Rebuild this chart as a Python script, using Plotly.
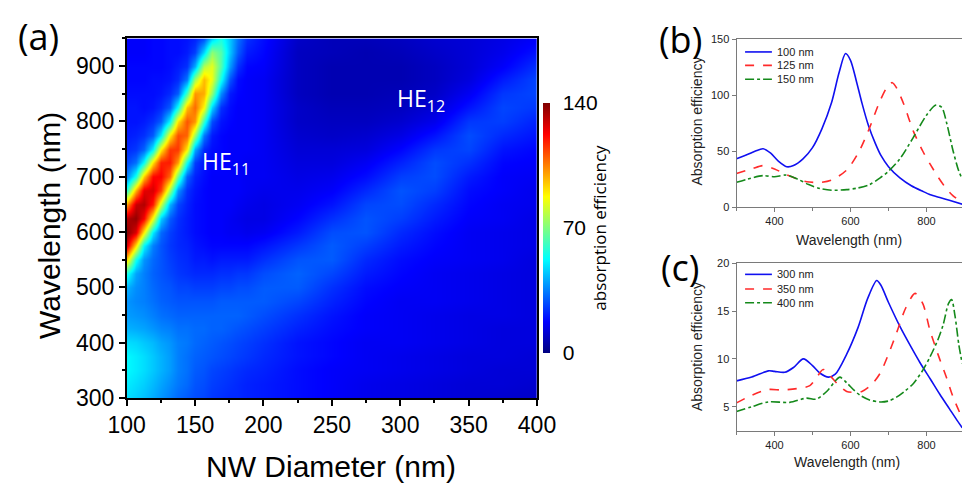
import numpy as np
import plotly.graph_objects as go

# ---------------- panel (a): absorption map ----------------
diameters = [100, 106.25, 112.5, 118.75, 125, 131.25, 137.5, 143.75, 150, 156.25, 162.5, 168.75,
             175, 181.25, 187.5, 200, 225, 250, 275, 300, 325, 350, 375, 400]
map_wavelengths = list(range(300, 951, 25))

# one list per diameter, values along map_wavelengths (300 -> 950 nm)
abs_d100 = [48, 50, 52, 52, 48, 42, 39, 38, 42, 56, 93, 129, 139, 133, 101, 58, 35, 27, 23, 21, 20, 20, 19, 18, 18, 17, 17]
abs_d106 = [46, 48, 50, 50, 47, 41, 38, 36, 37, 40, 55, 92, 127, 137, 130, 98, 55, 33, 25, 22, 20, 20, 19, 18, 18, 17, 17]
abs_d112 = [44, 46, 48, 48, 45, 40, 37, 35, 35, 35, 38, 52, 89, 123, 133, 126, 94, 53, 31, 24, 21, 19, 19, 18, 18, 17, 17]
abs_d118 = [41, 43, 45, 45, 43, 38, 35, 33, 32, 31, 32, 35, 50, 86, 119, 128, 122, 91, 51, 30, 24, 20, 19, 19, 18, 18, 18]
abs_d125 = [38, 40, 42, 42, 40, 36, 33, 31, 30, 29, 29, 29, 32, 46, 81, 114, 123, 118, 89, 50, 30, 23, 20, 19, 18, 18, 18]
abs_d131 = [35, 37, 39, 39, 38, 35, 32, 30, 29, 27, 26, 25, 26, 30, 42, 75, 108, 119, 115, 89, 52, 30, 23, 20, 19, 19, 19]
abs_d137 = [32, 34, 35, 35, 35, 33, 31, 29, 27, 25, 24, 23, 23, 24, 27, 38, 67, 101, 115, 112, 91, 54, 30, 23, 21, 19, 19]
abs_d143 = [30, 32, 33, 33, 34, 33, 31, 29, 27, 24, 23, 22, 21, 21, 22, 24, 31, 55, 90, 109, 111, 96, 62, 34, 24, 21, 20]
abs_d150 = [28, 29, 30, 31, 32, 32, 31, 29, 26, 23, 21, 20, 19, 19, 19, 20, 22, 26, 41, 74, 102, 108, 102, 74, 41, 26, 22]
abs_d156 = [27, 28, 29, 30, 31, 32, 31, 29, 26, 23, 21, 19, 18, 18, 18, 18, 19, 20, 23, 34, 60, 88, 99, 97, 77, 47, 28]
abs_d162 = [25, 26, 27, 29, 30, 31, 31, 29, 26, 23, 20, 18, 17, 17, 17, 17, 17, 18, 19, 21, 28, 47, 73, 85, 84, 72, 46]
abs_d168 = [24, 25, 26, 28, 29, 31, 31, 30, 27, 24, 21, 18, 17, 17, 17, 17, 17, 18, 18, 18, 20, 24, 37, 55, 64, 64, 56]
abs_d175 = [23, 24, 25, 27, 28, 30, 31, 30, 27, 24, 21, 18, 16, 16, 17, 17, 17, 17, 17, 17, 18, 19, 21, 29, 39, 45, 45]
abs_d181 = [23, 23, 24, 26, 27, 29, 31, 30, 28, 25, 21, 18, 16, 15, 16, 17, 17, 17, 17, 17, 17, 17, 18, 19, 24, 30, 33]
abs_d187 = [22, 22, 23, 25, 26, 28, 30, 30, 28, 25, 21, 18, 15, 14, 15, 16, 16, 16, 17, 17, 17, 17, 17, 17, 18, 21, 24]
abs_d200 = [21, 21, 22, 23, 24, 26, 28, 30, 30, 28, 24, 20, 16, 14, 14, 15, 16, 16, 16, 16, 16, 16, 16, 16, 17, 18, 19]
abs_d225 = [19, 19, 19, 20, 20, 22, 24, 27, 30, 31, 29, 25, 21, 18, 16, 15, 14, 13, 12, 11, 10, 10, 9, 9, 9, 9, 10]
abs_d250 = [17, 17, 17, 18, 18, 19, 20, 22, 24, 27, 30, 30, 28, 24, 20, 17, 15, 13, 12, 10, 9, 8, 7, 7, 7, 8, 8]
abs_d275 = [15, 15, 16, 16, 16, 17, 17, 18, 19, 21, 23, 26, 29, 29, 27, 23, 19, 16, 13, 11, 9, 8, 7, 7, 7, 7, 8]
abs_d300 = [14, 14, 15, 15, 16, 16, 16, 16, 17, 18, 19, 21, 23, 26, 28, 29, 26, 22, 18, 14, 11, 9, 8, 7, 7, 8, 9]
abs_d325 = [13, 13, 14, 14, 15, 15, 15, 16, 16, 16, 17, 18, 19, 21, 23, 26, 28, 28, 25, 20, 15, 12, 10, 9, 9, 10, 11]
abs_d350 = [12, 12, 13, 13, 14, 14, 14, 15, 15, 15, 16, 16, 16, 17, 18, 19, 21, 24, 27, 28, 25, 20, 16, 13, 12, 12, 12]
abs_d375 = [11, 12, 12, 13, 13, 13, 14, 14, 14, 14, 15, 15, 15, 16, 16, 17, 17, 18, 20, 23, 26, 27, 25, 21, 17, 15, 14]
abs_d400 = [10, 11, 12, 12, 13, 13, 13, 13, 13, 13, 13, 14, 14, 14, 15, 15, 16, 17, 18, 20, 22, 25, 27, 27, 24, 20, 17]

map_columns = [abs_d100, abs_d106, abs_d112, abs_d118, abs_d125, abs_d131, abs_d137, abs_d143,
               abs_d150, abs_d156, abs_d162, abs_d168, abs_d175, abs_d181, abs_d187, abs_d200,
               abs_d225, abs_d250, abs_d275, abs_d300, abs_d325, abs_d350, abs_d375, abs_d400]
colorbar_ticks = [0, 70, 140]

# ---------------- panel (b) ----------------
b100_wl = [300, 330, 350, 370, 390, 410, 432, 450, 475, 500, 525, 550, 570, 587, 600, 615, 630, 647, 665, 680, 700, 730, 760, 790, 810, 835, 860, 894]
b100_val = [43, 47, 50, 52, 48, 41, 36, 37, 43, 53, 70, 93, 120, 137, 131, 113, 93, 73, 57, 46, 36, 26, 19, 14, 11, 8.5, 6, 2.5]
b125_wl = [300, 340, 370, 400, 430, 460, 485, 520, 550, 590, 620, 647, 678, 700, 710, 720, 740, 765, 790, 810, 830, 853, 870, 894]
b125_val = [30, 34, 37, 34, 29, 25, 22.5, 22, 24, 33, 48, 68, 95, 109, 111, 107, 92, 68, 50, 38, 27, 16, 10, 4]
b150_wl = [300, 330, 370, 400, 430, 460, 490, 520, 550, 590, 620, 650, 678, 700, 730, 765, 800, 825, 840, 853, 870, 885, 894]
b150_val = [22, 25, 28, 27, 28.5, 25, 20, 16.5, 15, 15.5, 17, 20, 26, 32, 43, 62, 82, 91, 89, 75, 50, 32, 25]

# ---------------- panel (c) ----------------
c300_wl = [300, 340, 384, 400, 427, 450, 476, 500, 520, 542, 560, 590, 620, 645, 669, 680, 700, 730, 760, 783, 810, 835, 860, 880, 894]
c300_val = [7.7, 8.1, 8.75, 8.7, 8.6, 9.1, 10.0, 9.3, 8.5, 8.1, 8.4, 10.5, 13.3, 16.3, 18.2, 17.7, 15.9, 13.4, 11.2, 9.6, 7.9, 6.3, 4.8, 3.6, 2.8]
c350_wl = [300, 340, 384, 420, 460, 493, 510, 528, 545, 570, 590, 607, 630, 655, 678, 700, 721, 745, 770, 790, 809, 830, 853, 870, 894]
c350_val = [5.4, 6.2, 6.8, 6.75, 6.9, 7.2, 8.0, 8.9, 8.3, 7.2, 6.6, 6.5, 6.6, 7.3, 8.5, 10.5, 12.7, 15.3, 16.85, 15.8, 13.0, 10.5, 8.0, 6.0, 3.8]
c400_wl = [300, 340, 384, 440, 484, 510, 540, 560, 572, 590, 610, 625, 650, 678, 700, 721, 745, 765, 790, 809, 830, 844, 858, 866, 875, 885, 894]
c400_val = [4.5, 5.0, 5.5, 5.45, 5.9, 5.8, 6.7, 7.7, 8.1, 7.5, 6.7, 6.2, 5.7, 5.5, 5.6, 6.0, 6.7, 7.4, 8.8, 10.2, 12.0, 13.6, 15.8, 16.2, 14.5, 11.5, 9.5]

b_labels = ["100 nm", "125 nm", "150 nm"]
c_labels = ["300 nm", "350 nm", "400 nm"]

# ---------------- figure ----------------
W, H = 962, 483
def fx(px):
    return px / W
def fy(py):
    return 1 - py / H

ARIAL = "Liberation Sans, Arial, sans-serif"
CAL = "Open Sans, Noto Sans, sans-serif"

jet = [[0.0, "#00007F"], [0.125, "#0000FF"], [0.375, "#00FFFF"],
       [0.625, "#FFFF00"], [0.875, "#FF0000"], [1.0, "#7F0000"]]

fig = go.Figure()
fig.add_trace(go.Heatmap(
    x=diameters, y=map_wavelengths, z=np.array(map_columns).T,
    zsmooth="best", colorscale=jet, zmin=0, zmax=140,
    xaxis="x", yaxis="y",
    colorbar=dict(x=fx(542.5), xanchor="left", y=fy(228), yanchor="middle",
                  len=250, lenmode="pixels", thickness=7, thicknessmode="pixels",
                  outlinewidth=0, xpad=0, ypad=0,
                  tickvals=colorbar_ticks, ticks="outside", ticklen=9, tickcolor="rgba(0,0,0,0)",
                  tickfont=dict(family=ARIAL, size=21, color="black"),
                  title=dict(text="absorption efficiency", side="right",
                             font=dict(family=CAL, size=17, color="black"))),
))

blue, red, green = "#1010F0", "#FF2A2A", "#14891A"
line_specs_b = [(b100_wl, b100_val, blue, "solid"),
                (b125_wl, b125_val, red, "dash"),
                (b150_wl, b150_val, green, "dashdot")]
line_specs_c = [(c300_wl, c300_val, blue, "solid"),
                (c350_wl, c350_val, red, "dash"),
                (c400_wl, c400_val, green, "dashdot")]
for wl, val, col, dash in line_specs_b:
    fig.add_trace(go.Scatter(x=wl, y=val, mode="lines", xaxis="x2", yaxis="y2", showlegend=False,
                             line=dict(color=col, width=1.6, dash=dash, shape="spline", smoothing=0.8)))
for wl, val, col, dash in line_specs_c:
    fig.add_trace(go.Scatter(x=wl, y=val, mode="lines", xaxis="x3", yaxis="y3", showlegend=False,
                             line=dict(color=col, width=1.6, dash=dash, shape="spline", smoothing=0.8)))

big_axis = dict(showgrid=False, zeroline=False, showline=True, linecolor="black", linewidth=1.5,
                mirror=True, ticks="outside", ticklen=6, tickwidth=1.5, tickcolor="black",
                tickfont=dict(family=ARIAL, size=23, color="black"))
small_axis = dict(showgrid=False, zeroline=False, showline=True, linecolor="#7a7a7a", linewidth=1,
                  ticks="outside", ticklen=4, tickwidth=1, tickcolor="#7a7a7a",
                  tickfont=dict(family=ARIAL, size=11, color="#222"))

fig.update_layout(
    width=W, height=H, margin=dict(l=0, r=0, t=0, b=0, autoexpand=False),
    paper_bgcolor="white", plot_bgcolor="white", showlegend=False,
    xaxis=dict(**big_axis, domain=[fx(126.7), fx(537)], range=[100, 400], tick0=100, dtick=50,
               minor=dict(ticks="outside", ticklen=3, tickwidth=1.5, tickcolor="black", dtick=25)),
    yaxis=dict(**big_axis, domain=[fy(398), fy(38.4)], range=[300, 950], tick0=300, dtick=100,
               minor=dict(ticks="outside", ticklen=3, tickwidth=1.5, tickcolor="black", dtick=50)),
    xaxis2=dict(**small_axis, mirror=True, anchor="y2", domain=[fx(736.5), 1], range=[300, 893.4],
                tick0=0, dtick=200, minor=dict(ticks="outside", ticklen=3, tickcolor="#7a7a7a", dtick=100)),
    yaxis2=dict(**small_axis, anchor="x2", domain=[fy(207), fy(39)], range=[0, 150], dtick=50),
    xaxis3=dict(**small_axis, mirror=True, anchor="y3", domain=[fx(736.5), 1], range=[300, 893.4],
                tick0=0, dtick=200, minor=dict(ticks="outside", ticklen=3, tickcolor="#7a7a7a", dtick=100)),
    yaxis3=dict(**small_axis, anchor="x3", domain=[fy(431), fy(263.3)], range=[2.46, 20],
                tickvals=[5, 10, 15, 20]),
)

ann = []
def add_text(text, x, y, size, family=ARIAL, angle=0, color="black", xanchor="center", xref="paper", yref="paper"):
    ann.append(dict(text=text, x=x, y=y, xref=xref, yref=yref, showarrow=False, textangle=angle,
                    xanchor=xanchor, yanchor="middle", font=dict(family=family, size=size, color=color)))

add_text("Wavelength (nm)", fx(50), fy(226), 30, angle=-90)
add_text("NW Diameter (nm)", fx(331), fy(466), 30)
add_text("Absorption efficiency", fx(697), fy(121.5), 14, angle=-90, color="#222")
add_text("Wavelength (nm)", fx(849), fy(240), 14, color="#222")
add_text("Absorption efficiency", fx(697), fy(347), 14, angle=-90, color="#222")
add_text("Wavelength (nm)", fx(847), fy(462), 14, color="#222")
add_text("(a)", fx(38), fy(36), 36, family=CAL)
add_text("(b)", fx(680), fy(40), 36, family=CAL)
add_text("(c)", fx(680), fy(267), 36, family=CAL)
add_text("HE<sub>11</sub>", 153.7, 726, 23, family=CAL, color="white", xanchor="left", xref="x", yref="y")
add_text("HE<sub>12</sub>", 296.1, 840, 23, family=CAL, color="white", xanchor="left", xref="x", yref="y")

shapes = []
def legend(labels, specs, xref, yref, ys):
    for lab, spec, yy in zip(labels, specs, ys):
        shapes.append(dict(type="line", xref=xref, yref=yref, x0=0.038, x1=0.157, y0=yy, y1=yy,
                           line=dict(color=spec[2], width=1.6, dash=spec[3])))
        ann.append(dict(text=lab, x=0.171, y=yy, xref=xref, yref=yref, showarrow=False,
                        xanchor="left", yanchor="middle", font=dict(family=ARIAL, size=11, color="#222")))

legend(b_labels, line_specs_b, "x2 domain", "y2 domain", [0.923, 0.843, 0.760])
legend(c_labels, line_specs_c, "x3 domain", "y3 domain", [0.934, 0.847, 0.765])

fig.update_layout(annotations=ann, shapes=shapes)
fig.write_html("out.html", config={"displayModeBar": False},
               post_script="document.body.style.margin='0px';document.body.style.overflow='hidden';")
